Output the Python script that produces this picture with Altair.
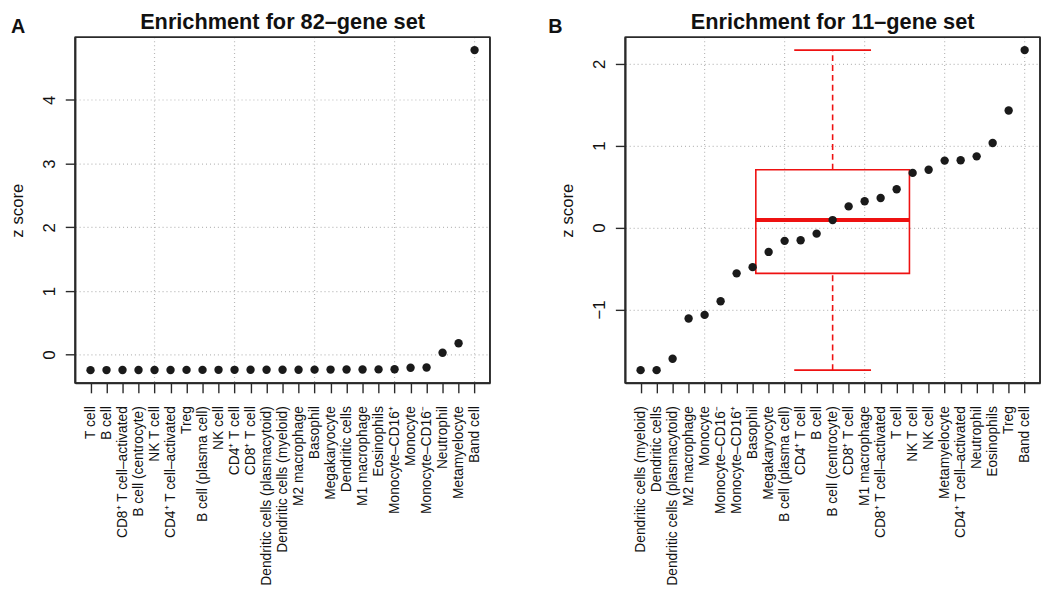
import json
import altair as alt
import pandas as pd
import numpy as np

FONT = "Liberation Sans"

# ---------------- data ----------------
cells_a = ["T cell", "B cell", "CD8⁺ T cell–activated", "B cell (centrocyte)", "NK T cell",
           "CD4⁺ T cell–activated", "Treg", "B cell (plasma cell)", "NK cell", "CD4⁺ T cell",
           "CD8⁺ T cell", "Dendritic cells (plasmacytoid)", "Dendritic cells (myeloid)",
           "M2 macrophage", "Basophil", "Megakaryocyte", "Dendritic cells", "M1 macrophage",
           "Eosinophils", "Monocyte–CD16⁺", "Monocyte", "Monocyte–CD16⁻", "Neutrophil",
           "Metamyelocyte", "Band cell"]
z_a = [-0.242, -0.241, -0.240, -0.240, -0.239, -0.239, -0.238, -0.238, -0.237, -0.237,
       -0.236, -0.236, -0.235, -0.235, -0.234, -0.233, -0.232, -0.231, -0.230, -0.228,
       -0.205, -0.200, 0.03, 0.18, 4.78]

cells_b = ["Dendritic cells (myeloid)", "Dendritic cells", "Dendritic cells (plasmacytoid)",
           "M2 macrophage", "Monocyte", "Monocyte–CD16⁻", "Monocyte–CD16⁺", "Basophil",
           "Megakaryocyte", "B cell (plasma cell)", "CD4⁺ T cell", "B cell",
           "B cell (centrocyte)", "CD8⁺ T cell", "M1 macrophage", "CD8⁺ T cell–activated",
           "T cell", "NK T cell", "NK cell", "Metamyelocyte", "CD4⁺ T cell–activated",
           "Neutrophil", "Eosinophils", "Treg", "Band cell"]
z_b = [-1.742, -1.742, -1.603, -1.111, -1.067, -0.901, -0.560, -0.484, -0.298, -0.163,
       -0.155, -0.075, 0.091, 0.258, 0.321, 0.361, 0.468, 0.667, 0.706, 0.817,
       0.821, 0.869, 1.032, 1.429, 2.167]

titles = ["Enrichment for 82–gene set", "Enrichment for 11–gene set"]
letters = ["A", "B"]
yticks_a = [0, 1, 2, 3, 4]
yticks_b = [-1, 0, 1, 2]
xgrid = [5, 10, 15, 20, 25]

# ---------------- style ----------------
PW, PH = 420, 350
INK = "#111111"
LINE = "#2a2a2a"
RED = "#ee1111"
DOT = "#1a1a1a"
GRID = "#b8b8b8"
BOX_HALF = 4.8
CAP_HALF = 2.4
TICK = 10


def fivenum(v):
    x = np.sort(np.asarray(v, dtype=float))
    n = len(x)
    n4 = np.floor((n + 3) / 2) / 2
    d = np.array([1, n4, (n + 1) / 2, n + 1 - n4, n]) - 1
    return 0.5 * (x[np.floor(d).astype(int)] + x[np.ceil(d).astype(int)])


def panel(cells, z, yticks, title, letter, letter_x, with_box):
    n = len(cells)
    df = pd.DataFrame({"i": np.arange(1, n + 1), "cell": cells, "z": z})
    pad = 0.04 * (n - 1)
    xdom = [1 - pad, n + pad]
    yr = max(z) - min(z)
    ydom = [min(z) - 0.04 * yr, max(z) + 0.04 * yr]
    xs = alt.Scale(domain=xdom, nice=False, zero=False)
    ys = alt.Scale(domain=ydom, nice=False, zero=False)
    lab = json.dumps(cells, ensure_ascii=False)

    xaxis = alt.Axis(values=list(range(1, n + 1)), labelExpr=f"{lab}[datum.value - 1]",
                     labelAngle=270, labelFontSize=14, labelFont=FONT, labelColor=INK,
                     labelPadding=13, tickSize=TICK, ticks=True, tickColor=LINE,
                     tickWidth=1.4, domain=True, domainColor=LINE, domainWidth=1.6,
                     grid=False, title=None,
                     labelOverlap=False, labelBound=False, labelFlush=False, labelLimit=0)
    yaxis = alt.Axis(values=yticks, labelExpr="replace(datum.label, '-', '−')",
                     labelAngle=270, labelFontSize=17, labelFont=FONT, labelColor=INK,
                     labelPadding=7, tickSize=TICK, ticks=True, tickColor=LINE,
                     tickWidth=1.4, domain=True, domainColor=LINE, domainWidth=1.6,
                     grid=True, gridColor=GRID, gridDash=[1, 3], gridWidth=1.2,
                     title="z score", titleFont=FONT, titleFontSize=17,
                     titleFontWeight="normal", titleColor=INK, titlePadding=14)

    X = lambda f: alt.X(f, type="quantitative", scale=xs, axis=xaxis)
    Y = lambda f: alt.Y(f, type="quantitative", scale=ys, axis=yaxis)

    grid = alt.Chart(pd.DataFrame({"g": xgrid})).mark_rule(
        color=GRID, strokeDash=[1, 3], strokeWidth=1.2).encode(x=X("g"))

    pts = alt.Chart(df).mark_circle(size=72, color=DOT, opacity=1).encode(
        x=X("i"), y=Y("z"), tooltip=["cell", "z"])

    # plot frame, drawn from the scale domain (box around the plot region)
    fdf = pd.DataFrame({"x0": [xdom[0]], "x1": [xdom[1]], "y0": [ydom[0]], "y1": [ydom[1]]})
    fb = alt.Chart(fdf)
    fr = dict(color=LINE, strokeWidth=1.6)
    f_top = fb.mark_rule(**fr).encode(x=X("x0"), x2="x1", y=Y("y1"))
    f_bot = fb.mark_rule(**fr).encode(x=X("x0"), x2="x1", y=Y("y0"))
    f_l = fb.mark_rule(**fr).encode(x=X("x0"), y=Y("y0"), y2="y1")
    f_r = fb.mark_rule(**fr).encode(x=X("x1"), y=Y("y0"), y2="y1")

    lt = alt.Chart(pd.DataFrame({"t": [letter]})).mark_text(
        font=FONT, fontSize=20, fontWeight="bold", align="left", baseline="alphabetic",
        color=INK).encode(text="t:N", x=alt.value(letter_x), y=alt.value(-4))

    tt = alt.Chart(pd.DataFrame({"t": [title]})).mark_text(
        font=FONT, fontSize=22, fontWeight="bold", align="center", baseline="alphabetic",
        color=INK).encode(text="t:N", x=alt.value(PW / 2), y=alt.value(-8))

    layers = [grid]
    if with_box:
        mn, q1, med, q3, mx = fivenum(z)
        iqr = q3 - q1
        zz = np.asarray(z)
        lo = zz[zz >= q1 - 1.5 * iqr].min()
        hi = zz[zz <= q3 + 1.5 * iqr].max()
        at = (n + 1) / 2
        bdf = pd.DataFrame({"x1": [at - BOX_HALF], "x2": [at + BOX_HALF],
                            "c1": [at - CAP_HALF], "c2": [at + CAP_HALF], "at": [at],
                            "q1": [q1], "med": [med], "q3": [q3], "lo": [lo], "hi": [hi]})
        base = alt.Chart(bdf)
        wh1 = base.mark_rule(color=RED, strokeWidth=1.6, strokeDash=[6, 4]).encode(
            x=X("at"), y=Y("q3"), y2="hi")
        wh2 = base.mark_rule(color=RED, strokeWidth=1.6, strokeDash=[6, 4]).encode(
            x=X("at"), y=Y("lo"), y2="q1")
        cap1 = base.mark_rule(color=RED, strokeWidth=1.6).encode(x=X("c1"), x2="c2", y=Y("hi"))
        cap2 = base.mark_rule(color=RED, strokeWidth=1.6).encode(x=X("c1"), x2="c2", y=Y("lo"))
        box = base.mark_rect(fill=None, stroke=RED, strokeWidth=1.6).encode(
            x=X("x1"), x2="x2", y=Y("q1"), y2="q3")
        medr = base.mark_rule(color=RED, strokeWidth=4).encode(x=X("x1"), x2="x2", y=Y("med"))
        layers += [wh1, wh2, cap1, cap2, box, medr]
    layers += [pts, f_top, f_bot, f_l, f_r, lt, tt]

    return alt.layer(*layers).properties(width=PW, height=PH)


left = panel(cells_a, z_a, yticks_a, titles[0], letters[0], -65, False)
right = panel(cells_b, z_b, yticks_b, titles[1], letters[1], -78, True)

chart = alt.hconcat(left, right, spacing=56).properties(
    padding={"left": 0, "top": -1, "right": 0, "bottom": 0},
    background="white").configure_view(stroke=LINE, strokeWidth=1.6)

chart.save("out.html", embed_options={"renderer": "svg", "actions": False})
